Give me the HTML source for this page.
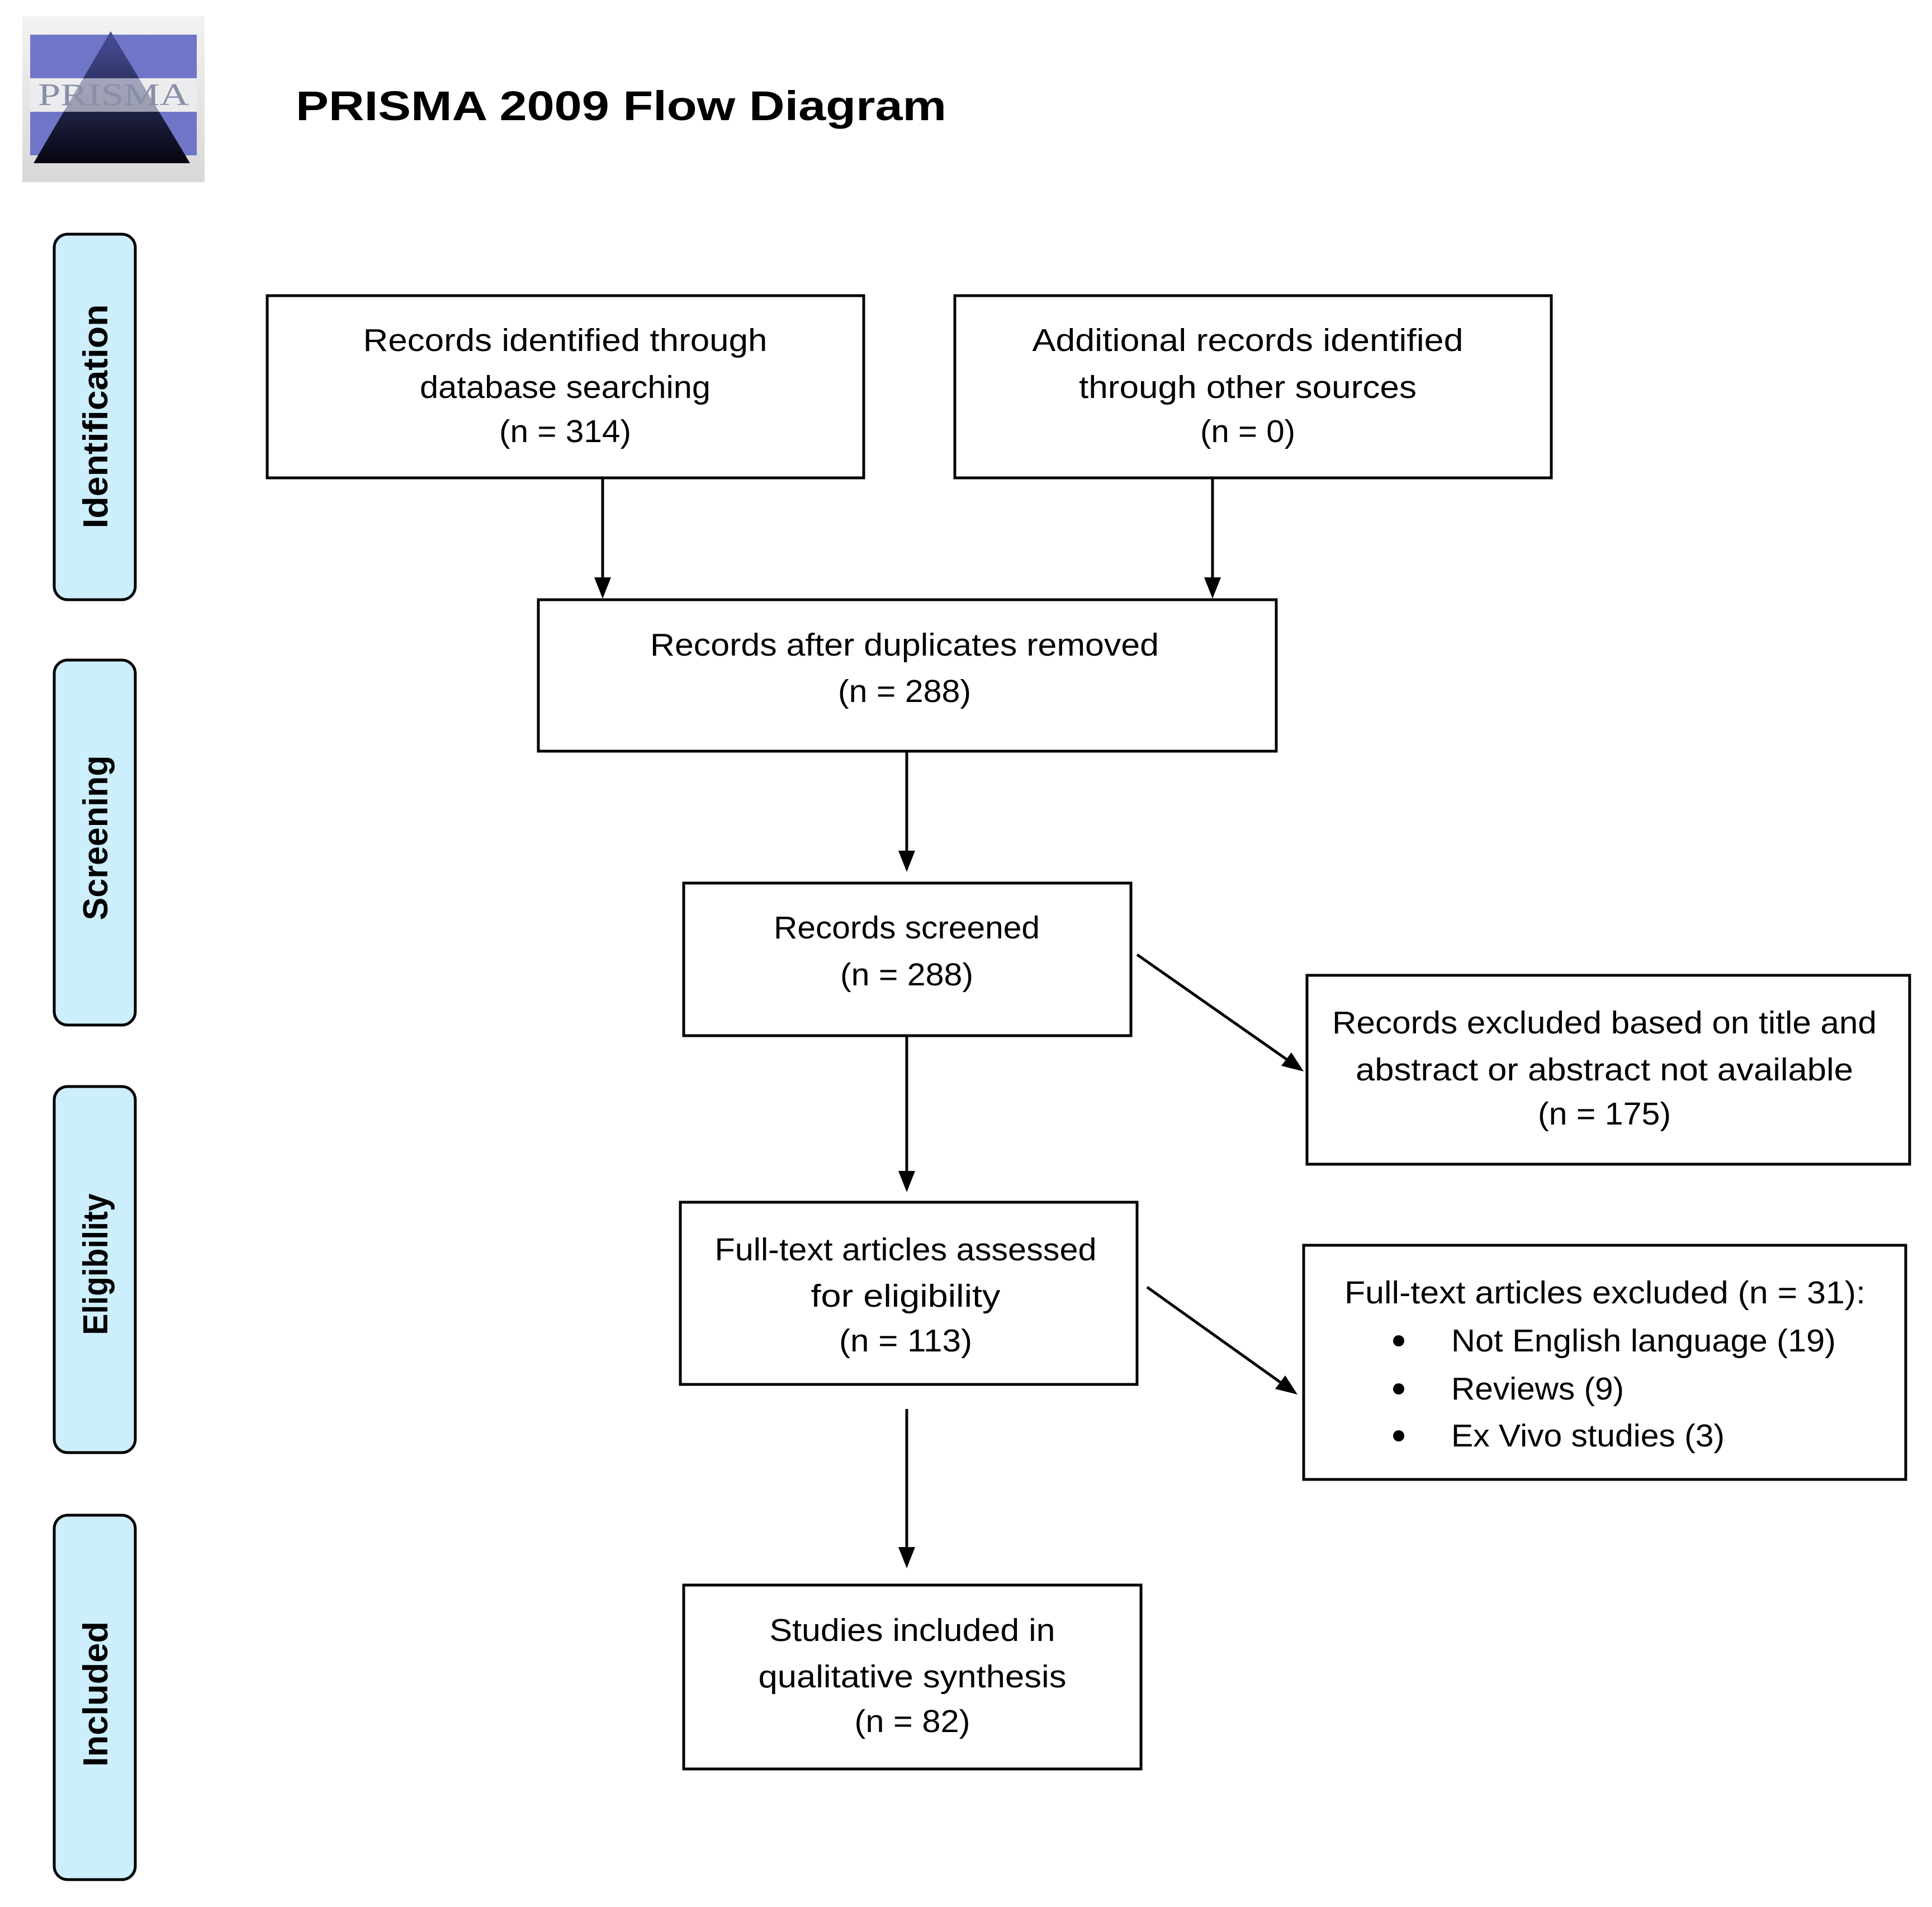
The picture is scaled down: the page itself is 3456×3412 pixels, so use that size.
<!DOCTYPE html>
<html><head><meta charset="utf-8"><style>html,body{margin:0;padding:0;background:#fff}svg{display:block}</style></head>
<body>
<svg width="3456" height="3412" viewBox="0 0 3456 3412" xmlns="http://www.w3.org/2000/svg">
<defs>
<linearGradient id="lg" x1="0" y1="0" x2="0" y2="1"><stop offset="0" stop-color="#f2f2f2"/><stop offset="1" stop-color="#d8d8d8"/></linearGradient>
<linearGradient id="tri" x1="0" y1="0" x2="0" y2="1"><stop offset="0" stop-color="#4a4f9a"/><stop offset="1" stop-color="#05050f"/></linearGradient>
</defs>
<!-- logo -->
<rect x="40" y="29" width="326" height="297" fill="url(#lg)"/>
<rect x="54" y="62" width="298" height="78" fill="#6f76c8"/>
<rect x="54" y="200" width="298" height="78" fill="#6f76c8"/>
<polygon points="198,56 340,292 60,292" fill="url(#tri)"/>
<rect x="54" y="140" width="298" height="60" fill="#f0f0f5" opacity="0.6"/>
<text x="203" y="188" text-anchor="middle" font-family="Liberation Serif, serif" font-size="56" fill="#8890a8" textLength="270" lengthAdjust="spacingAndGlyphs">PRISMA</text>
<!-- title -->
<text x="529" y="215" font-family="Liberation Sans, sans-serif" font-weight="bold" font-size="74" textLength="1164" lengthAdjust="spacingAndGlyphs">PRISMA 2009 Flow Diagram</text>
<!-- side bars -->
<g fill="#cdeefc" stroke="#000" stroke-width="5">
<rect x="97" y="419" width="145" height="654" rx="24"/>
<rect x="97" y="1181" width="145" height="653" rx="24"/>
<rect x="97" y="1944" width="145" height="655" rx="24"/>
<rect x="97" y="2711" width="145" height="652" rx="24"/>
</g>
<g font-family="Liberation Sans, sans-serif" font-weight="bold" font-size="62" text-anchor="middle">
<text transform="translate(192,745) rotate(-90)" textLength="401" lengthAdjust="spacingAndGlyphs">Identification</text>
<text transform="translate(192,1499) rotate(-90)" textLength="295" lengthAdjust="spacingAndGlyphs">Screening</text>
<text transform="translate(192,2262) rotate(-90)" textLength="253" lengthAdjust="spacingAndGlyphs">Eligibility</text>
<text transform="translate(192,3031) rotate(-90)" textLength="260" lengthAdjust="spacingAndGlyphs">Included</text>
</g>
<!-- boxes -->
<g fill="#fff" stroke="#000" stroke-width="5">
<rect x="478" y="529" width="1067" height="326"/>
<rect x="1708" y="529" width="1067" height="326"/>
<rect x="963" y="1073" width="1320" height="271"/>
<rect x="1223" y="1580" width="800" height="273"/>
<rect x="2338" y="1745" width="1078" height="338"/>
<rect x="1217" y="2151" width="817" height="326"/>
<rect x="2332" y="2228" width="1077" height="419"/>
<rect x="1223" y="2836" width="818" height="329"/>
</g>
<!-- arrows -->
<g stroke="#000" stroke-width="5" fill="none">
<line x1="1078" y1="855" x2="1078" y2="1035"/>
<line x1="2169" y1="855" x2="2169" y2="1035"/>
<line x1="1622" y1="1344" x2="1622" y2="1524"/>
<line x1="1622" y1="1853" x2="1622" y2="2097"/>
<line x1="1622" y1="2521" x2="1622" y2="2770"/>
<line x1="2034" y1="1708" x2="2301" y2="1895"/>
<line x1="2052" y1="2303" x2="2290" y2="2473"/>
</g>
<g fill="#000">
<polygon points="1063,1033 1093,1033 1078,1071"/>
<polygon points="2154,1033 2184,1033 2169,1071"/>
<polygon points="1607,1522 1637,1522 1622,1560"/>
<polygon points="1607,2095 1637,2095 1622,2133"/>
<polygon points="1607,2768 1637,2768 1622,2806"/>
<polygon points="2332,1917 2292,1907 2310,1883"/>
<polygon points="2321,2495 2281,2485 2299,2461"/>
</g>
<!-- texts -->
<g font-family="Liberation Sans, sans-serif" font-size="57" text-anchor="middle">
<text x="1011" y="628" textLength="723" lengthAdjust="spacingAndGlyphs">Records identified through</text>
<text x="1011" y="712" textLength="520" lengthAdjust="spacingAndGlyphs">database searching</text>
<text x="1011" y="791" textLength="236" lengthAdjust="spacingAndGlyphs">(n = 314)</text>
<text x="2232" y="628" textLength="771" lengthAdjust="spacingAndGlyphs">Additional records identified</text>
<text x="2232" y="712" textLength="604" lengthAdjust="spacingAndGlyphs">through other sources</text>
<text x="2232" y="791" textLength="170" lengthAdjust="spacingAndGlyphs">(n = 0)</text>
<text x="1618" y="1173" textLength="910" lengthAdjust="spacingAndGlyphs">Records after duplicates removed</text>
<text x="1618" y="1256" textLength="238" lengthAdjust="spacingAndGlyphs">(n = 288)</text>
<text x="1622" y="1679" textLength="476" lengthAdjust="spacingAndGlyphs">Records screened</text>
<text x="1622" y="1763" textLength="238" lengthAdjust="spacingAndGlyphs">(n = 288)</text>
<text x="2870" y="1849" textLength="974" lengthAdjust="spacingAndGlyphs">Records excluded based on title and</text>
<text x="2870" y="1933" textLength="890" lengthAdjust="spacingAndGlyphs">abstract or abstract not available</text>
<text x="2870" y="2012" textLength="238" lengthAdjust="spacingAndGlyphs">(n = 175)</text>
<text x="1620" y="2255" textLength="683" lengthAdjust="spacingAndGlyphs">Full-text articles assessed</text>
<text x="1620" y="2338" textLength="339" lengthAdjust="spacingAndGlyphs">for eligibility</text>
<text x="1620" y="2418" textLength="238" lengthAdjust="spacingAndGlyphs">(n = 113)</text>
<text x="1632" y="2936" textLength="511" lengthAdjust="spacingAndGlyphs">Studies included in</text>
<text x="1632" y="3019" textLength="551" lengthAdjust="spacingAndGlyphs">qualitative synthesis</text>
<text x="1632" y="3099" textLength="207" lengthAdjust="spacingAndGlyphs">(n = 82)</text>
</g>
<g font-family="Liberation Sans, sans-serif" font-size="57">
<text x="2405" y="2332" textLength="932" lengthAdjust="spacingAndGlyphs">Full-text articles excluded (n = 31):</text>
<text x="2596" y="2418" textLength="688" lengthAdjust="spacingAndGlyphs">Not English language (19)</text>
<text x="2596" y="2504" textLength="309" lengthAdjust="spacingAndGlyphs">Reviews (9)</text>
<text x="2596" y="2588" textLength="489" lengthAdjust="spacingAndGlyphs">Ex Vivo studies (3)</text>
</g>
<g fill="#000">
<circle cx="2502" cy="2399" r="10"/>
<circle cx="2502" cy="2485" r="10"/>
<circle cx="2502" cy="2569" r="10"/>
</g>
</svg>
</body></html>
